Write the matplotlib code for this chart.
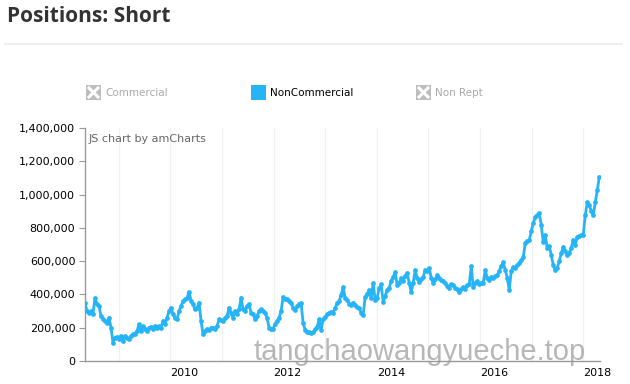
import numpy as np
import pandas as pd
import matplotlib
matplotlib.use("Agg")
from matplotlib import pyplot as plt
import matplotlib.dates as mdates
from matplotlib.patches import Rectangle
from matplotlib.lines import Line2D
from matplotlib.ticker import FuncFormatter, MultipleLocator

# NonCommercial short positions, roughly every two weeks (thousands of contracts)
noncommercial_k = [
    348, 300, 288, 300, 285, 378, 340, 330,
    270, 255, 240, 230, 260, 200, 110, 140, 145, 135, 150, 120, 150, 140, 130,
    150, 160, 165, 180, 220, 180, 210, 195, 180, 200, 205, 195, 210, 200, 210,
    200, 240, 220, 260, 300, 320, 280, 260, 250, 300, 330, 360, 370, 380, 415, 360, 340, 310, 320, 350,
    240, 160, 180, 190, 185, 200, 200, 195, 210, 250, 245, 240, 260, 270, 320, 290, 260, 300, 280, 310,
    380, 310, 300, 330, 340, 290, 280, 250, 270, 300, 310, 300, 290, 260, 200, 190, 195, 220, 240, 260,
    300, 385, 370, 375, 360, 350, 320, 306, 330, 340, 348, 228, 186, 176, 174, 168, 172, 190, 204, 250,
    186, 250, 264, 280, 288, 295, 290, 320, 348, 360, 396, 444, 380, 366, 345, 336, 350, 336, 325, 318,
    290, 276, 384, 400, 426, 378, 468, 366, 380, 438,
    460, 354, 390, 426, 440, 480, 504, 534, 456, 470, 498, 480, 510, 528, 470, 414, 470, 546, 500, 474,
    490, 504, 546, 540, 558, 500, 468, 490, 516, 500,
    486, 480, 470, 450, 438, 460, 456, 440, 430, 414, 430, 445, 430, 456, 460, 570, 444, 468, 480, 460,
    470, 470, 546, 500, 486, 504, 500, 510, 516, 540, 570, 594, 546, 500, 426, 540, 564, 560, 576, 590,
    606, 624, 708, 720, 726,
    780, 828, 864, 876, 888, 816, 714, 756, 678, 690, 636, 576, 546, 560, 600, 648, 684, 660, 636, 650,
    680, 726, 700, 744, 750, 756, 760, 876, 954, 936, 900, 876, 954, 1026, 1104,
]
report_dates = pd.date_range("2008-05-06", "2018-04-24", periods=len(noncommercial_k))
noncommercial = np.array(noncommercial_k) * 1000

legend_labels = ["Commercial", "NonCommercial", "Non Rept"]
line_color = "#25b4f8"

fig = plt.figure(figsize=(6.3, 3.84), dpi=100)
W, H = 630.0, 384.0

# title and separator
fig.text(7 / W, 1 - 16 / H, "Positions: Short", family="Open Sans", weight="bold",
         fontsize=15, color="#333333", va="center", ha="left")
fig.add_artist(Line2D([5 / W, 622 / W], [1 - 44 / H, 1 - 44 / H], color="#eeeeee", lw=1.2))

# legend (only NonCommercial active)
icon_x = [86, 251, 416]
for lab, ix in zip(legend_labels, icon_x):
    x0, y0 = ix / W, 1 - 100 / H
    w, h = 15 / W, 15 / H
    active = lab == "NonCommercial"
    fig.add_artist(Rectangle((x0, y0), w, h, transform=fig.transFigure,
                             facecolor=line_color if active else "#bdbdbd", edgecolor="none"))
    if not active:
        pad_x, pad_y = 3 / W, 3 / H
        fig.add_artist(Line2D([x0 + pad_x, x0 + w - pad_x], [y0 + pad_y, y0 + h - pad_y], color="white", lw=2.2))
        fig.add_artist(Line2D([x0 + pad_x, x0 + w - pad_x], [y0 + h - pad_y, y0 + pad_y], color="white", lw=2.2))
    fig.text((ix + 19) / W, y0 + h / 2, lab, fontsize=7.5, va="center", ha="left",
             color="#000000" if active else "#aaaaaa")

ax = fig.add_axes([85 / W, 1 - 361 / H, 515 / W, 233 / H])
ax.plot(report_dates, noncommercial, color=line_color, lw=2, marker="o", markersize=3.4,
        markeredgewidth=0, zorder=3)

ax.set_ylim(0, 1400000)
ax.yaxis.set_major_locator(MultipleLocator(200000))
ax.yaxis.set_major_formatter(FuncFormatter(lambda v, p: f"{int(v):,}"))
ax.set_xlim(report_dates[0], report_dates[-1] + pd.Timedelta(days=5))

ax.xaxis.set_major_locator(mdates.YearLocator(2))
ax.xaxis.set_major_formatter(mdates.DateFormatter("%Y"))
ax.xaxis.set_minor_locator(mdates.YearLocator(1))
ax.grid(True, which="both", axis="x", color="#f0f0f0", lw=0.9, zorder=0)

for side in ["top", "right"]:
    ax.spines[side].set_visible(False)
for side in ["left", "bottom"]:
    ax.spines[side].set_color("#999999")
    ax.spines[side].set_linewidth(1)

ax.tick_params(axis="y", direction="out", length=4, color="#999999", labelsize=8, labelcolor="#000000", pad=3)
ax.tick_params(axis="x", which="both", length=0, labelsize=8, labelcolor="#000000", pad=5)
for lbl in ax.get_xticklabels():
    lbl.set_horizontalalignment("left")

ax.text(4 / 515, 1 - 11 / 233, "JS chart by amCharts", transform=ax.transAxes,
        fontsize=8, color="#666666", va="center", ha="left")

fig.text(253 / W, 1 - 352 / H, "tangchaowangyueche.top", family="Liberation Sans",
         fontsize=21, color="#999999", alpha=0.7, va="center", ha="left", zorder=10)

fig.savefig("out.png", dpi=100)
